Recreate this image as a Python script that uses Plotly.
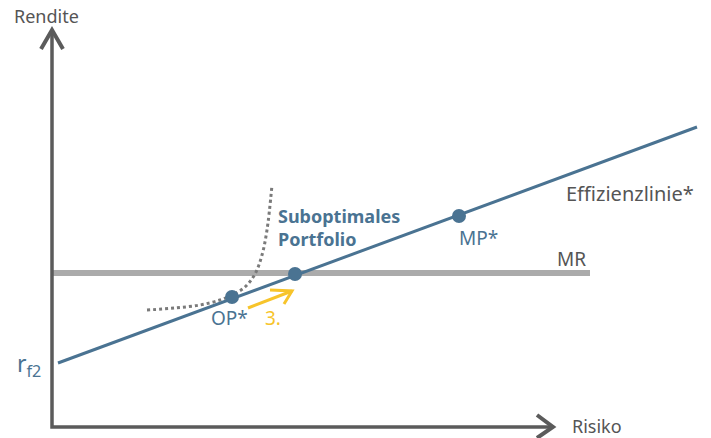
import plotly.graph_objects as go

# Risk / return coordinates of the chart elements
line_x = [6, 645]
line_y = [64, 300]

point_names = ["OP*", "Suboptimal", "MP*"]
point_x = [180, 243, 407]
point_y = [130, 153, 211]

mr_x = [0, 538]
mr_y = [154, 154]

curve_x = [95, 123, 148, 168, 180, 193, 203, 210, 215, 220]
curve_y = [117, 119, 122, 127, 132, 140, 153, 172, 197, 242]

BLUE = "#4a7392"
GRAY = "#5b5b5b"
TEXT = "#555555"
MRGRAY = "#ababab"
YELLOW = "#f7c42b"
FONT = "Noto Sans"

fig = go.Figure()

fig.add_trace(go.Scatter(x=mr_x, y=mr_y, mode="lines",
                         line=dict(color=MRGRAY, width=6), hoverinfo="skip"))
fig.add_trace(go.Scatter(x=curve_x, y=curve_y, mode="lines", line_shape="spline",
                         line=dict(color="#7a7a7a", width=3, dash="dot"), hoverinfo="skip"))
fig.add_trace(go.Scatter(x=line_x, y=line_y, mode="lines",
                         line=dict(color=BLUE, width=3), hoverinfo="skip"))
fig.add_trace(go.Scatter(x=point_x, y=point_y, mode="markers",
                         marker=dict(color=BLUE, size=14), hoverinfo="skip"))

shapes = [
    # axes
    dict(type="path", path="M 0,397 L 0,0 L 500,0", line=dict(color=GRAY, width=3.5)),
    dict(type="path", path="M -11,378 L 0,397 L 11,378", line=dict(color=GRAY, width=4)),
    dict(type="path", path="M 485,12 L 501,0 L 485,-11", line=dict(color=GRAY, width=4)),
    # yellow move arrow
    dict(type="path", path="M 196,119 L 240,136", line=dict(color=YELLOW, width=3)),
    dict(type="path", path="M 218,137 L 240,136 L 232,123", line=dict(color=YELLOW, width=3)),
]
for s in shapes:
    s.update(xref="x", yref="y", layer="above")

def label(x, y, text, color=TEXT, size=19, xanchor="center", bold=False, align="center"):
    fig.add_annotation(x=x, y=y, text=f"<b>{text}</b>" if bold else text, showarrow=False,
                       xanchor=xanchor, yanchor="middle", align=align,
                       font=dict(family=FONT, size=size, color=color))

label(-6, 411, "Rendite", size=18)
label(518, 1, "Risiko", size=18, xanchor="left")
label(-23, 63, "r<sub>f2</sub>", color=BLUE, size=23)
label(177, 109, "OP*", color=BLUE)
label(221, 109, "3.", color=YELLOW)
label(224, 200, "Suboptimales<br>Portfolio", color=BLUE, size=18, xanchor="left", bold=True, align="left")
label(426, 189, "MP*", color=BLUE)
label(512, 234, "Effizienzlinie*", size=20, xanchor="left")
label(519, 168, "MR")

fig.update_layout(
    width=711, height=438,
    margin=dict(l=0, r=0, t=0, b=0),
    paper_bgcolor="white", plot_bgcolor="white",
    showlegend=False,
    shapes=shapes,
    xaxis=dict(range=[-52, 659], visible=False, fixedrange=True),
    yaxis=dict(range=[-11, 427], visible=False, fixedrange=True),
)

fig.write_html("out.html")
